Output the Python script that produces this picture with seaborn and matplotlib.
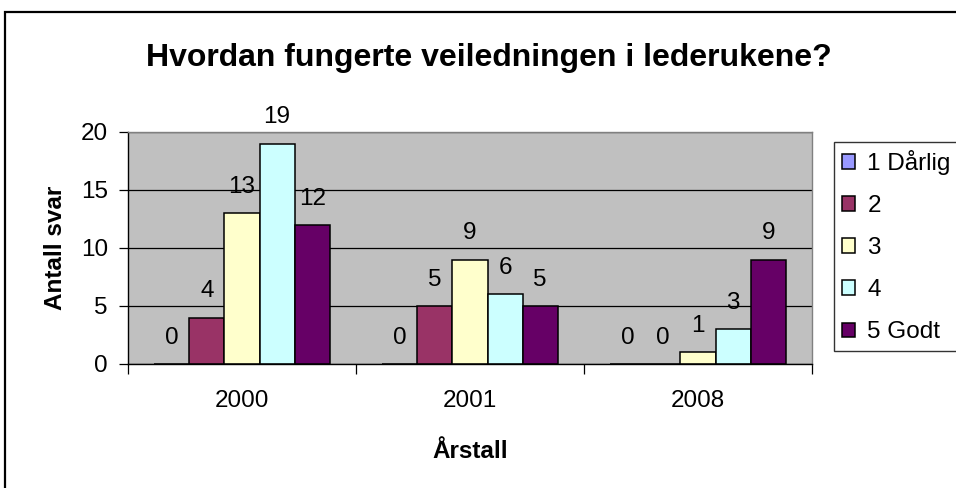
import pandas as pd
import numpy as np
import matplotlib.pyplot as plt
import seaborn as sns
from matplotlib.patches import Rectangle

# data
years = ["2000", "2001", "2008"]
ratings = ["1 Dårlig", "2", "3", "4", "5 Godt"]
counts = {
    "1 Dårlig": [0, 0, 0],
    "2": [4, 5, 0],
    "3": [13, 9, 1],
    "4": [19, 6, 3],
    "5 Godt": [12, 5, 9],
}
colors = ["#9999FF", "#993366", "#FFFFCC", "#CCFFFF", "#660066"]

rows = []
for r in ratings:
    for y, v in zip(years, counts[r]):
        rows.append({"Årstall": y, "Antall svar": v, "Svar": r})
df = pd.DataFrame(rows)

sns.set_theme(style="white")
plt.rcParams["font.family"] = ["Liberation Sans", "DejaVu Sans"]
plt.rcParams["text.color"] = "black"
plt.rcParams["axes.labelcolor"] = "black"
plt.rcParams["xtick.color"] = "black"
plt.rcParams["ytick.color"] = "black"

fs = 17.5

fig = plt.figure(figsize=(9.56, 4.88), dpi=100)
ax = fig.add_axes([128 / 956, 124 / 488, 684 / 956, 232 / 488])
ax.set_facecolor("#C0C0C0")

sns.barplot(data=df, x="Årstall", y="Antall svar", hue="Svar", hue_order=ratings,
            palette=colors, saturation=1, width=0.77, gap=0, edgecolor="black",
            linewidth=1.1, ax=ax)

handles, labels = ax.get_legend_handles_labels()
ax.get_legend().remove()

for cont in ax.containers:
    ax.bar_label(cont, fmt="%d", padding=11, fontsize=fs, color="black")

ax.set_ylim(0, 20)
ax.set_xlim(-0.5, 2.5)
ax.set_yticks([0, 5, 10, 15, 20])
ax.yaxis.grid(True, color="black", linewidth=0.9)
ax.set_axisbelow(True)
ax.tick_params(axis="y", which="major", direction="out", length=6.5, width=0.9,
               color="black", labelsize=fs, left=True, pad=8)
ax.tick_params(axis="x", which="major", length=0, labelsize=fs, pad=19)
ax.set_xticks([-0.5, 0.5, 1.5, 2.5], minor=True)
ax.tick_params(axis="x", which="minor", direction="out", length=7, width=0.9,
               color="black", bottom=True)

for side in ["left", "bottom"]:
    ax.spines[side].set_color("black")
    ax.spines[side].set_linewidth(1.0)
for side in ["top", "right"]:
    ax.spines[side].set_color("#808080")
    ax.spines[side].set_linewidth(1.0)

ax.set_ylabel("Antall svar", fontsize=fs, fontweight="bold", labelpad=10)
ax.set_xlabel("Årstall", fontsize=fs, fontweight="bold", labelpad=20)

fig.text(489 / 956, 1 - 58 / 488, "Hvordan fungerte veiledningen i lederukene?",
         ha="center", va="center", fontsize=23, fontweight="bold")

leg = fig.legend(handles, labels, loc="upper left",
                 bbox_to_anchor=(834 / 956, 1 - 142 / 488), frameon=True,
                 fontsize=fs, handlelength=0.55, handleheight=0.55,
                 handletextpad=0.5, labelspacing=0.83, borderpad=0.32,
                 borderaxespad=0, fancybox=False)
leg.get_frame().set_edgecolor("black")
leg.get_frame().set_linewidth(1.0)

# outer chart frame (runs off the right and bottom edges)
top = 1 - 12 / 488
fig.patches.append(Rectangle((5 / 956, -0.1), 1.2, top + 0.1,
                             transform=fig.transFigure, fill=False,
                             edgecolor="black", linewidth=1.6))

fig.savefig("out.png", dpi=100)
